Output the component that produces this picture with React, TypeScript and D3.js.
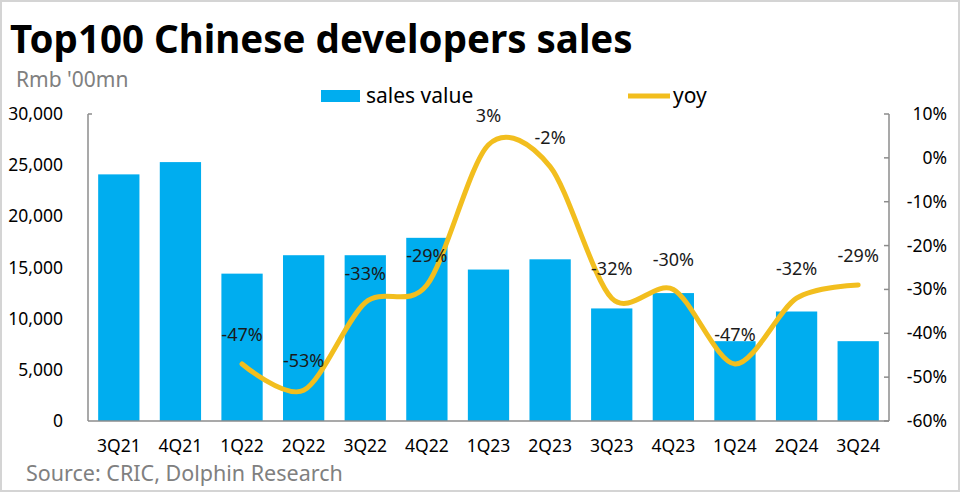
import * as d3 from "d3";

const quarters = ["3Q21", "4Q21", "1Q22", "2Q22", "3Q22", "4Q22", "1Q23", "2Q23", "3Q23", "4Q23", "1Q24", "2Q24", "3Q24"];
const salesValue = [24100, 25300, 14400, 16200, 16200, 17900, 14800, 15800, 11000, 12500, 7800, 10700, 7800];
const yoy: (number | null)[] = [null, null, -47, -53, -33, -29, 3, -2, -32, -30, -47, -32, -29];
const leftTicks = [0, 5000, 10000, 15000, 20000, 25000, 30000];
const rightTicks = [10, 0, -10, -20, -30, -40, -50, -60];

const W = 960;
const H = 492;
const m = { top: 114, right: 71, bottom: 71, left: 88 };
const font = "'Noto Sans', 'Open Sans', sans-serif";

export default function App() {
  const x = d3.scaleBand<string>().domain(quarters).range([m.left, W - m.right]).paddingInner(0.33).paddingOuter(0.165);
  const yL = d3.scaleLinear().domain([0, 30000]).range([H - m.bottom, m.top]);
  const yR = d3.scaleLinear().domain([-60, 10]).range([H - m.bottom, m.top]);
  const cx = (q: string) => (x(q) ?? 0) + x.bandwidth() / 2;

  const pts = quarters
    .map((q, i) => ({ q, v: yoy[i] }))
    .filter((d) => d.v !== null) as { q: string; v: number }[];
  const line = d3
    .line<{ q: string; v: number }>()
    .x((d) => cx(d.q))
    .y((d) => yR(d.v))
    .curve(d3.curveCardinal.tension(0.1));

  const fmt = d3.format(",");
  const axisColor = "#8c8c8c";
  const bottom = H - m.bottom;

  return (
    <div style={{ position: "fixed", left: 0, top: 0 }}>
      <svg width={W} height={H} style={{ display: "block", background: "#fff" }}>
        <rect x={1} y={1} width={W - 2} height={H - 2} fill="#fff" stroke="#d4d4d4" strokeWidth={2} />
        <text x={10} y={53} fontFamily={font} fontWeight={700} fontSize={38.5} fill="#000">
          Top100 Chinese developers sales
        </text>
        <text x={16} y={87} fontFamily={font} fontSize={21} fill="#808080">
          Rmb '00mn
        </text>

        {/* legend */}
        <rect x={321} y={90} width={39} height={12} fill="#00ADEF" />
        <text x={366} y={103} fontFamily={font} fontSize={21} fill="#000">
          sales value
        </text>
        <line x1={628} x2={670} y1={96} y2={96} stroke="#F2BE1E" strokeWidth={5} />
        <text x={673} y={103} fontFamily={font} fontSize={21} fill="#000">
          yoy
        </text>

        {/* bars */}
        {quarters.map((q, i) => (
          <rect key={q} x={x(q)} y={yL(salesValue[i])} width={x.bandwidth()} height={bottom - yL(salesValue[i])} fill="#00ADEF" />
        ))}

        {/* axes */}
        <line x1={m.left} x2={m.left} y1={m.top} y2={bottom} stroke={axisColor} strokeWidth={1.5} />
        <line x1={m.left} x2={m.left + 4} y1={m.top} y2={m.top} stroke={axisColor} strokeWidth={1.5} />
        <line x1={W - m.right} x2={W - m.right} y1={m.top} y2={bottom} stroke={axisColor} strokeWidth={1.5} />
        <line x1={m.left} x2={W - m.right} y1={bottom} y2={bottom} stroke={axisColor} strokeWidth={1.5} />
        {rightTicks.map((t) => (
          <line key={t} x1={W - m.right - 5} x2={W - m.right} y1={yR(t)} y2={yR(t)} stroke={axisColor} strokeWidth={1.5} />
        ))}
        {leftTicks.map((t) => (
          <text key={t} x={63} y={yL(t) + 6} textAnchor="end" fontFamily={font} fontSize={17.5} fill="#000">
            {fmt(t)}
          </text>
        ))}
        {rightTicks.map((t) => (
          <text key={t} x={947} y={yR(t) + 6} textAnchor="end" fontFamily={font} fontSize={17.5} fill="#000">
            {t + "%"}
          </text>
        ))}
        {quarters.map((q) => (
          <text key={q} x={cx(q)} y={452} textAnchor="middle" fontFamily={font} fontSize={17.5} fill="#000">
            {q}
          </text>
        ))}

        {/* yoy line */}
        <path d={line(pts) ?? ""} fill="none" stroke="#F2BE1E" strokeWidth={5} strokeLinecap="round" />
        {pts.map((d) => (
          <text key={d.q} x={cx(d.q)} y={yR(d.v) - 23} textAnchor="middle" fontFamily={font} fontSize={18} fill="#1a1a1a">
            {d.v + "%"}
          </text>
        ))}

        <text x={26} y={481} fontFamily={font} fontSize={21.5} fill="#808080">
          Source: CRIC, Dolphin Research
        </text>
      </svg>
    </div>
  );
}
